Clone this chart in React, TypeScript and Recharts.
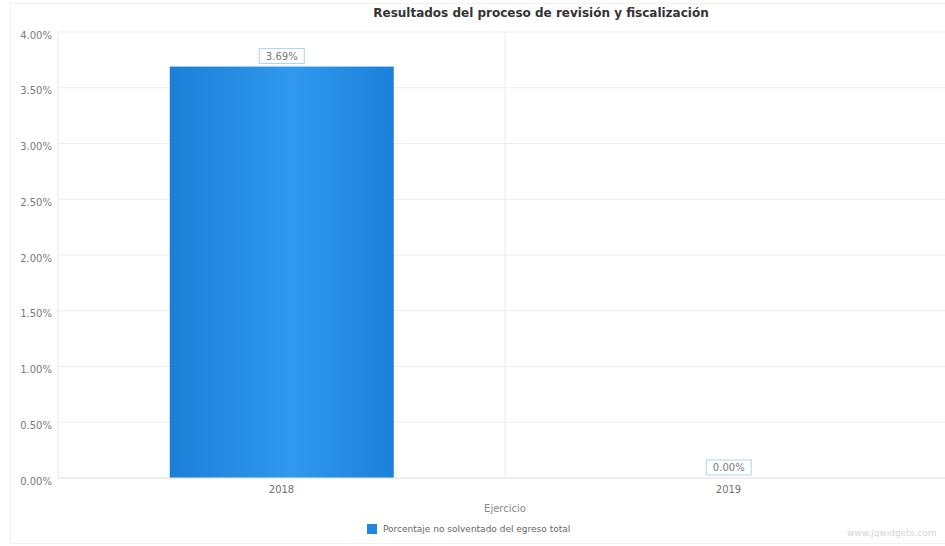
import React from 'react';
import {
  BarChart,
  Bar,
  XAxis,
  YAxis,
  CartesianGrid,
} from 'recharts';

// Ejercicio (fiscal year) and share of total spending not resolved, in %
const years = ['2018', '2019'];
const noSolventado = [3.69, 0.0];
const yTicks = [0, 0.5, 1, 1.5, 2, 2.5, 3, 3.5, 4];

const FONT = '"DejaVu Sans", Verdana, sans-serif';
const BLUE = '#1f87e0';

const chartData = years.map((year, i) => ({
  year,
  value: noSolventado[i],
}));

// Column with its boxed value label on top (also drawn for zero values)
function ColumnWithBox(props: any) {
  const { x, y, width, height, value } = props;
  const v = Array.isArray(value) ? value[1] - value[0] : value;
  const text = `${Number(v).toFixed(2)}%`;
  const boxW = 45;
  const boxH = 15;
  const cx = x + width / 2;
  const top = y - boxH - 3;
  return (
    <g>
      {height > 0 && (
        <rect x={x} y={y} width={width} height={height} fill="url(#barShade)" />
      )}
      <rect
        x={cx - boxW / 2}
        y={top}
        width={boxW}
        height={boxH}
        fill="#fff"
        stroke="#a9d6ec"
        strokeWidth={1}
      />
      <text
        x={cx}
        y={top + boxH / 2 + 3.5}
        textAnchor="middle"
        fontSize={10}
        fontFamily={FONT}
        fill="#7a7a7a"
      >
        {text}
      </text>
    </g>
  );
}

export default function App() {
  return (
    <div
      style={{
        position: 'fixed',
        left: 0,
        top: 0,
        width: 945,
        height: 546,
        overflow: 'hidden',
        background: '#fff',
        fontFamily: FONT,
      }}
    >
      {/* faint outer frame */}
      <div
        style={{
          position: 'absolute',
          left: 10,
          top: 3,
          width: 960,
          height: 539,
          border: '1px solid #f1f1f1',
        }}
      />
      <div
        style={{
          position: 'absolute',
          left: 0,
          top: 6,
          width: 1082,
          textAlign: 'center',
          fontSize: 12,
          fontWeight: 'bold',
          color: '#333',
        }}
      >
        Resultados del proceso de revisión y fiscalización
      </div>

      <div style={{ position: 'absolute', left: 0, top: 0 }}>
        <BarChart
          width={952}
          height={546}
          data={chartData}
          margin={{ top: 32, right: 0, left: 0, bottom: 44 }}
          barCategoryGap="25%"
        >
          <defs>
            <linearGradient id="barShade" x1="0" y1="0" x2="1" y2="0">
              <stop offset="0%" stopColor="#1b7fd8" />
              <stop offset="55%" stopColor="#3098ee" />
              <stop offset="100%" stopColor="#1b80da" />
            </linearGradient>
          </defs>
          <CartesianGrid
            stroke="#ececec"
            verticalCoordinatesGenerator={(p: any) => [
              p.offset.left + p.offset.width / 2,
            ]}
          />
          <XAxis
            dataKey="year"
            height={24}
            tickLine={false}
            axisLine={{ stroke: '#e6e6e6' }}
            tick={{ fontSize: 10, fontFamily: FONT, fill: '#6f6f6f' }}
            label={{
              value: 'Ejercicio',
              position: 'bottom',
              offset: 3,
              fontSize: 10,
              fontFamily: FONT,
              fill: '#8a8a8a',
            }}
          />
          <YAxis
            width={58}
            domain={[0, 4]}
            ticks={yTicks}
            interval={0}
            tickLine={false}
            tickSize={4}
            tickMargin={2}
            axisLine={{ stroke: '#e6e6e6' }}
            tick={{ fontSize: 10, fontFamily: FONT, fill: '#7a7a7a', dy: 3 }}
            tickFormatter={(v: number) => `${v.toFixed(2)}%`}
          />
          <Bar
            dataKey="value"
            fill={BLUE}
            shape={<ColumnWithBox />}
            isAnimationActive={false}
          />
        </BarChart>
      </div>

      {/* legend */}
      <div
        style={{
          position: 'absolute',
          left: 367,
          top: 524,
          display: 'flex',
          alignItems: 'center',
          fontSize: 9,
          color: '#666',
          whiteSpace: 'nowrap',
        }}
      >
        <span
          style={{
            display: 'inline-block',
            width: 10,
            height: 10,
            background: BLUE,
            marginRight: 6,
          }}
        />
        Porcentaje no solventado del egreso total
      </div>

      <div
        style={{
          position: 'absolute',
          left: 847,
          top: 528,
          fontSize: 9,
          color: '#d4d4d4',
          whiteSpace: 'nowrap',
        }}
      >
        www.jqwidgets.com
      </div>
    </div>
  );
}
